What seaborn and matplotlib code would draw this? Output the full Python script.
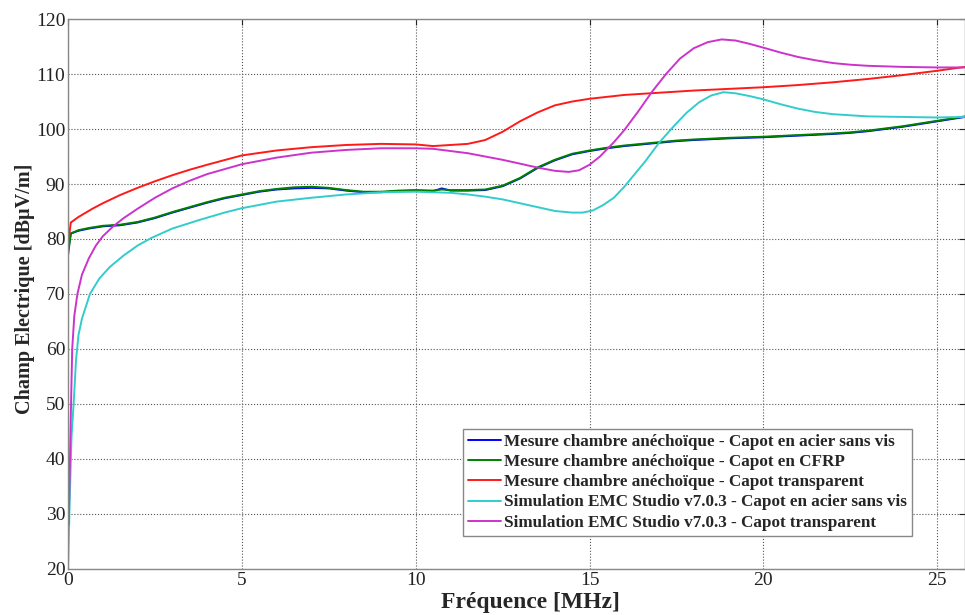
import matplotlib
matplotlib.use("Agg")
import matplotlib.pyplot as plt
import seaborn as sns

# --- data (frequency in MHz, field in dBuV/m) ---
blue_x = [0, 0.08, 0.3, 0.6, 1.0, 1.5, 2.0, 2.5, 3.0, 3.5, 4.0, 4.5, 5.0, 5.5, 6.0, 6.5, 7.0, 7.5,
          8.0, 8.5, 9.0, 9.5, 10.0, 10.5, 10.75, 11.0, 11.5, 12.0, 12.5, 13.0, 13.5, 14.0, 14.5,
          15.0, 15.5, 16.0, 16.5, 17.0, 17.5, 18.0, 19.0, 20.0, 21.0, 22.0, 22.5, 23.0, 23.5,
          24.0, 24.5, 25.0, 25.8]
blue_y = [78, 81, 81.5, 81.9, 82.3, 82.5, 83.0, 83.8, 84.8, 85.7, 86.6, 87.4, 88.0, 88.6, 89.0,
          89.2, 89.3, 89.2, 88.8, 88.5, 88.5, 88.7, 88.8, 88.7, 89.2, 88.8, 88.8, 88.9, 89.6, 91.0,
          92.9, 94.3, 95.4, 96.0, 96.5, 96.9, 97.2, 97.5, 97.8, 98.0, 98.3, 98.5, 98.8, 99.1, 99.3,
          99.6, 100.0, 100.4, 100.9, 101.4, 102.2]

green_x = blue_x
green_y = [77, 81, 81.6, 82.0, 82.4, 82.6, 83.1, 83.9, 84.9, 85.8, 86.7, 87.5, 88.1, 88.7, 89.1,
           89.4, 89.5, 89.3, 88.9, 88.6, 88.6, 88.8, 88.9, 88.8, 89.0, 88.9, 88.9, 89.0, 89.7, 91.1,
           93.0, 94.4, 95.5, 96.1, 96.6, 97.0, 97.3, 97.6, 97.9, 98.1, 98.4, 98.6, 98.9, 99.2, 99.4,
           99.7, 100.1, 100.5, 101.0, 101.5, 102.3]

red_x = [0, 0.08, 0.3, 0.7, 1.0, 1.5, 2.0, 2.5, 3.0, 3.5, 4.0, 5.0, 6.0, 7.0, 8.0, 9.0, 10.0,
         10.5, 11.0, 11.5, 12.0, 12.5, 13.0, 13.5, 14.0, 14.5, 15.0, 16.0, 17.0, 18.0, 19.0, 20.0,
         21.0, 22.0, 23.0, 24.0, 25.0, 25.8]
red_y = [79, 83, 84, 85.5, 86.5, 88, 89.3, 90.5, 91.6, 92.6, 93.5, 95.2, 96.1, 96.7, 97.1, 97.3,
         97.2, 96.9, 97.1, 97.3, 98.0, 99.5, 101.4, 103.0, 104.3, 105.0, 105.5, 106.2, 106.6, 107.0,
         107.3, 107.6, 108.0, 108.5, 109.1, 109.8, 110.6, 111.3]

cyan_x = [0, 0.05, 0.1, 0.17, 0.23, 0.3, 0.4, 0.63, 0.9, 1.2, 1.6, 2.0, 2.4, 3.0, 3.8, 4.5, 5.0,
          6.0, 7.0, 8.0, 9.0, 10.0, 11.0, 11.5, 12.0, 12.5, 13.0, 13.5, 14.0, 14.5, 14.8, 15.1,
          15.4, 15.7, 16.0, 16.3, 16.6, 17.0, 17.45, 17.8, 18.16, 18.5, 18.85, 19.2, 19.6, 20.0,
          20.5, 21.0, 21.5, 22.0, 22.5, 23.0, 24.0, 25.0, 25.8]
cyan_y = [20, 33, 44, 51, 58, 62.5, 65.5, 70, 72.8, 74.9, 77, 78.8, 80.2, 81.9, 83.5, 84.8, 85.6,
          86.8, 87.5, 88.1, 88.5, 88.6, 88.4, 88.1, 87.7, 87.2, 86.5, 85.8, 85.1, 84.8, 84.8, 85.2,
          86.2, 87.5, 89.5, 91.8, 94.1, 97.5, 100.7, 103.0, 104.9, 106.1, 106.7, 106.5, 106.0,
          105.4, 104.5, 103.7, 103.1, 102.7, 102.5, 102.3, 102.2, 102.1, 102.2]

magenta_x = [0.02, 0.05, 0.08, 0.12, 0.18, 0.27, 0.4, 0.6, 0.8, 1.0, 1.3, 1.6, 2.0, 2.5, 3.0, 3.5,
             4.0, 5.0, 6.0, 7.0, 8.0, 9.0, 10.0, 10.5, 11.0, 11.5, 12.0, 12.5, 13.0, 13.5, 14.0,
             14.4, 14.7, 15.0, 15.3, 15.7, 16.0, 16.4, 16.8, 17.2, 17.6, 18.0, 18.4, 18.8, 19.2,
             19.6, 20.0, 20.5, 21.0, 21.5, 22.0, 22.5, 23.0, 24.0, 25.0, 25.8]
magenta_y = [28, 38, 48, 60, 66, 70, 73.5, 76.5, 78.8, 80.5, 82.3, 83.8, 85.5, 87.5, 89.2, 90.6,
             91.8, 93.6, 94.8, 95.7, 96.2, 96.5, 96.5, 96.4, 96.0, 95.6, 95.0, 94.4, 93.7, 93.0,
             92.4, 92.2, 92.5, 93.5, 95.0, 97.6, 99.8, 103.2, 106.8, 110.0, 112.8, 114.7, 115.8,
             116.3, 116.1, 115.5, 114.8, 113.9, 113.1, 112.5, 112.0, 111.7, 111.5, 111.3, 111.2,
             111.2]

labels = ["Mesure chambre anéchoïque - Capot en acier sans vis",
          "Mesure chambre anéchoïque - Capot en CFRP",
          "Mesure chambre anéchoïque - Capot transparent",
          "Simulation EMC Studio v7.0.3 - Capot en acier sans vis",
          "Simulation EMC Studio v7.0.3 - Capot transparent"]
colors = ["#0000ff", "#008000", "#ff1a1a", "#33cccc", "#cc33cc"]
series = [(blue_x, blue_y), (green_x, green_y), (red_x, red_y), (cyan_x, cyan_y), (magenta_x, magenta_y)]

sns.set_style("white")
plt.rcParams['font.family'] = ['Liberation Serif', 'DejaVu Serif']

fig = plt.figure(figsize=(9.65, 6.15), dpi=100)
ax = fig.add_axes([0.0705, 0.075, 0.9295, 0.894])

for (xs, ys), lab, col in zip(series, labels, colors):
    sns.lineplot(x=xs, y=ys, ax=ax, color=col, label=lab, linewidth=1.4,
                 sort=False, estimator=None)

ax.set_xlim(0, 25.8)
ax.set_ylim(20, 120)
ax.set_xticks(range(0, 26, 5))
ax.set_yticks(range(20, 121, 10))
ax.tick_params(direction='in', length=4, labelsize=14, colors='#222222',
               top=True, right=True, pad=2)
ax.grid(True, linestyle=':', color='#555555', linewidth=0.8)
for sp in ax.spines.values():
    sp.set_color('#888888')
    sp.set_linewidth(1.0)

ax.set_xlabel("Fréquence [MHz]", fontsize=17, fontweight='bold', labelpad=2.5)
ax.xaxis.label.set_x(0.516)
ax.set_ylabel("Champ Electrique [dBµV/m]", fontsize=14.5, fontweight='bold', labelpad=0.5)
ax.yaxis.label.set_y(0.51)

leg = ax.legend(loc='lower right', bbox_to_anchor=(0.941, 0.06), fancybox=False,
                framealpha=1, edgecolor='#888888', prop={'size': 12.3, 'weight': 'bold'},
                handlelength=1.9, handletextpad=0.2, labelspacing=0.25,
                borderpad=0.3, borderaxespad=0)
leg.get_frame().set_linewidth(1.0)

fig.savefig("out.png", dpi=100)
